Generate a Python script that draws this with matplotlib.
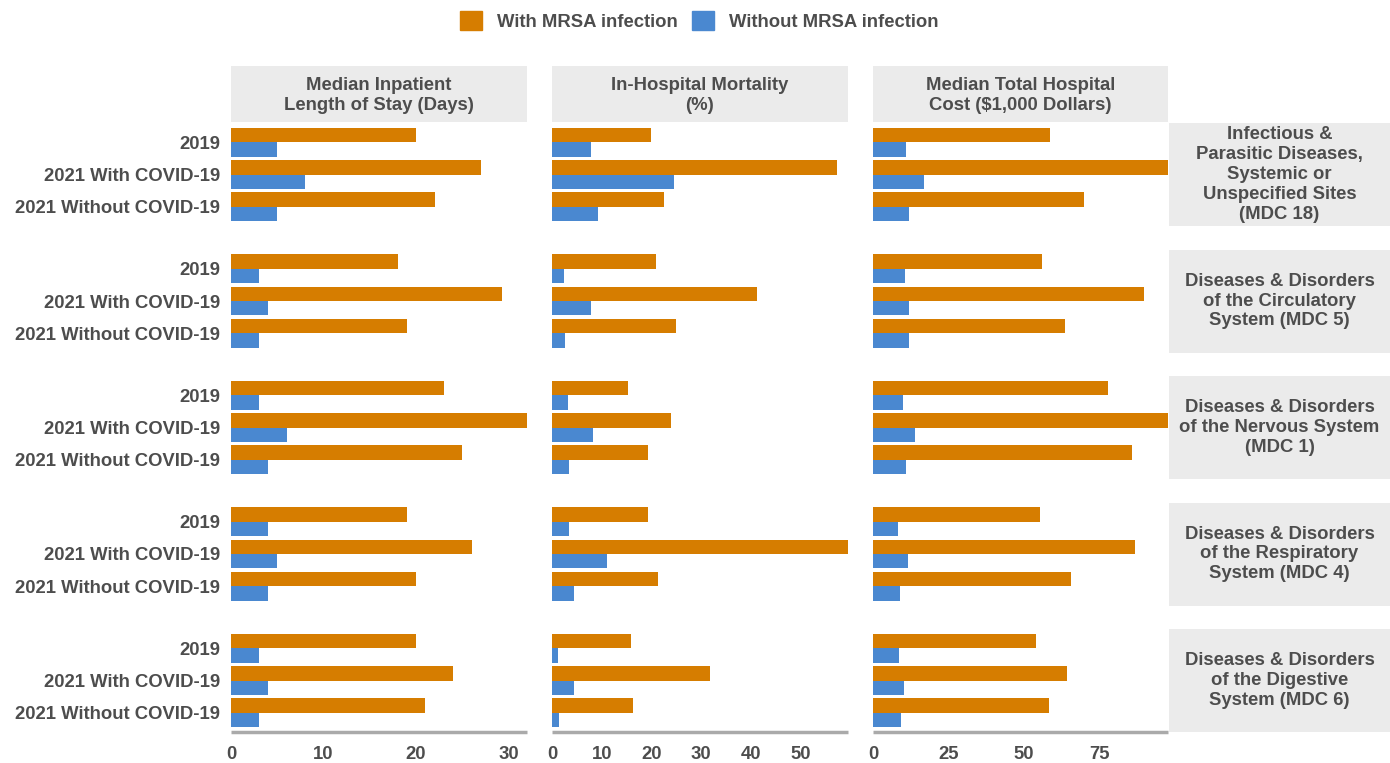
import numpy as np
import matplotlib
matplotlib.use("Agg")
import matplotlib.pyplot as plt
from matplotlib.patches import Patch

plt.rcParams['font.family'] = ['Liberation Sans', 'DejaVu Sans']
plt.rcParams['font.weight'] = 'bold'

# categories and facets
periods = ["2019", "2021 With COVID-19", "2021 Without COVID-19"]
metrics = ["Median Inpatient\nLength of Stay (Days)",
           "In-Hospital Mortality\n(%)",
           "Median Total Hospital\nCost ($1,000 Dollars)"]
diseases = ["Infectious &\nParasitic Diseases,\nSystemic or\nUnspecified Sites\n(MDC 18)",
            "Diseases & Disorders\nof the Circulatory\nSystem (MDC 5)",
            "Diseases & Disorders\nof the Nervous System\n(MDC 1)",
            "Diseases & Disorders\nof the Respiratory\nSystem (MDC 4)",
            "Diseases & Disorders\nof the Digestive\nSystem (MDC 6)"]

# values: rows = disease, cols = period
los_with = [[20, 27, 22], [18, 29.3, 19], [23, 32, 25], [19, 26, 20], [20, 24, 21]]
los_without = [[5, 8, 5], [3, 4, 3], [3, 6, 4], [4, 5, 4], [3, 4, 3]]
mort_with = [[19.8, 57.2, 22.5], [20.9, 41.3, 24.9], [15.2, 24.0, 19.3],
             [19.2, 59.5, 21.3], [15.8, 31.7, 16.3]]
mort_without = [[7.8, 24.6, 9.2], [2.4, 7.8, 2.7], [3.3, 8.3, 3.5],
                [3.5, 11.1, 4.4], [1.3, 4.5, 1.4]]
cost_with = [[58.7, 97.8, 70.0], [55.9, 89.7, 63.7], [77.8, 97.8, 85.9],
             [55.4, 86.9, 65.5], [54.0, 64.4, 58.5]]
cost_without = [[11.0, 17.0, 12.0], [10.6, 12.0, 11.8], [10.0, 14.0, 11.0],
                [8.2, 11.5, 9.1], [8.6, 10.3, 9.4]]

xticks = [[0, 10, 20, 30], [0, 10, 20, 30, 40, 50], [0, 25, 50, 75]]

with_vals = [los_with, mort_with, cost_with]
without_vals = [los_without, mort_without, cost_without]

ORANGE = "#D67D00"
BLUE = "#4A88D0"
STRIP = "#EBEBEB"
TXT = "#4D4D4D"
FS = 13.3

W, H = 1390, 763
fig = plt.figure(figsize=(W / 100, H / 100), dpi=100)


def box(x0, y0, x1, y1):
    # pixel box (top-left origin) -> figure fraction
    return [x0 / W, 1 - y1 / H, (x1 - x0) / W, (y1 - y0) / H]


col_x = [(231, 527), (552, 848), (873, 1168)]
row_y = [(123 + i * 126.5, 226 + i * 126.5) for i in range(5)]

ypos = np.arange(len(periods))
bh = 0.45

for r in range(5):
    for c in range(3):
        ax = fig.add_axes(box(col_x[c][0], row_y[r][0], col_x[c][1], row_y[r][1]))
        w = np.array(with_vals[c][r])
        wo = np.array(without_vals[c][r])
        ax.barh(ypos - bh / 2, w, height=bh, color=ORANGE)
        ax.barh(ypos + bh / 2, wo, height=bh, color=BLUE)
        xmax = max(max(max(v) for v in with_vals[c]), max(max(v) for v in without_vals[c]))
        ax.set_xlim(0, xmax)
        ax.set_ylim(2.6, -0.6)
        for s in ax.spines.values():
            s.set_visible(False)
        ax.tick_params(length=0)
        if c == 0:
            ax.set_yticks(ypos)
            ax.set_yticklabels(periods, fontsize=FS, color=TXT, fontweight='bold')
            ax.tick_params(axis='y', pad=8)
        else:
            ax.set_yticks([])
        if r == 4:
            ax.set_xticks(xticks[c])
            ax.set_xticklabels([str(t) for t in xticks[c]], fontsize=FS,
                               color=TXT, fontweight='bold')
            ax.tick_params(axis='x', pad=10)
            ax.spines['bottom'].set_visible(True)
            ax.spines['bottom'].set_color("#AAAAAA")
            ax.spines['bottom'].set_linewidth(2.5)
            ax.spines['bottom'].set_capstyle('butt')
        else:
            ax.set_xticks([])

# top strips
for c in range(3):
    sax = fig.add_axes(box(col_x[c][0], 66, col_x[c][1], 122))
    sax.set_facecolor(STRIP)
    sax.set_xticks([]); sax.set_yticks([])
    for s in sax.spines.values():
        s.set_visible(False)
    sax.text(0.5, 0.47, metrics[c], ha='center', va='center', fontsize=FS,
             color=TXT, fontweight='bold', linespacing=1.2, transform=sax.transAxes)

# right strips
for r in range(5):
    sax = fig.add_axes(box(1169, row_y[r][0], 1390, row_y[r][1]))
    sax.set_facecolor(STRIP)
    sax.set_xticks([]); sax.set_yticks([])
    for s in sax.spines.values():
        s.set_visible(False)
    sax.text(0.5, 0.5, diseases[r], ha='center', va='center', fontsize=FS,
             color=TXT, fontweight='bold', linespacing=1.22, transform=sax.transAxes)

handles = [Patch(color=ORANGE, label="With MRSA infection"),
           Patch(color=BLUE, label="Without MRSA infection")]
leg = fig.legend(handles=handles, loc='upper center', bbox_to_anchor=(0.503, 1.007),
                 ncol=2, frameon=False, fontsize=FS, handlelength=1.2,
                 handleheight=1.2, columnspacing=0.8, handletextpad=0.8)
for t in leg.get_texts():
    t.set_color(TXT)
    t.set_fontweight('bold')

fig.savefig("out.png", dpi=100)
